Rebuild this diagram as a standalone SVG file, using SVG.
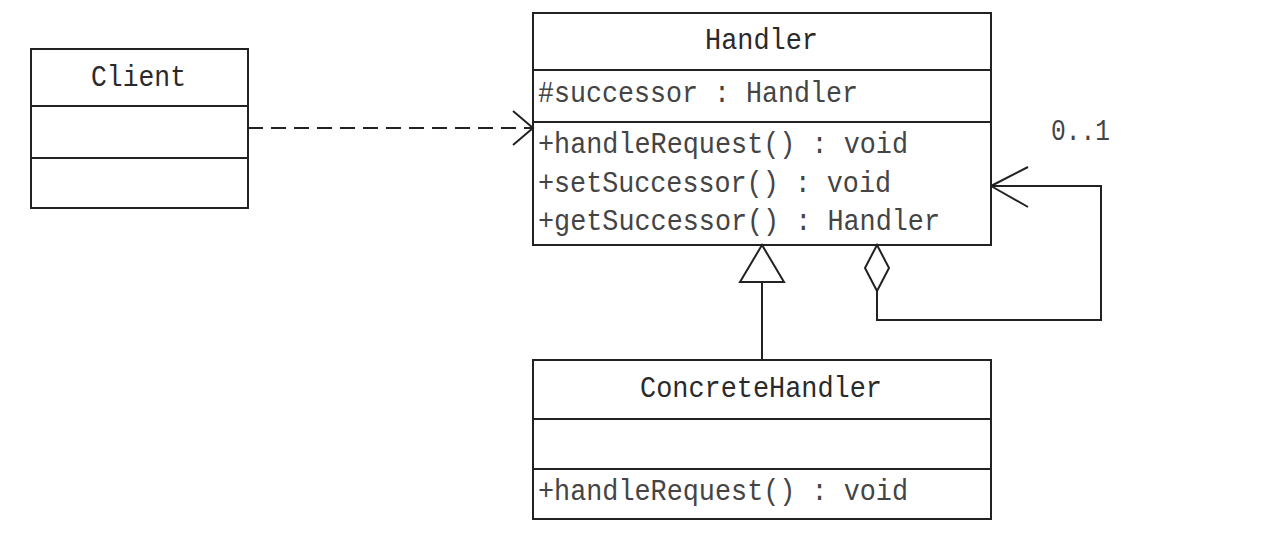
<svg xmlns="http://www.w3.org/2000/svg" width="1262" height="548" viewBox="0 0 1262 548">
<style>
.box{fill:#fff;stroke:#222;stroke-width:2}
.ln{fill:none;stroke:#222;stroke-width:2}
.t{font-family:"Liberation Mono",monospace;font-size:30px;fill:#2a2a2a}
.m{font-family:"Liberation Mono",monospace;font-size:30px;fill:#444}
</style>
<defs>
<marker id="open" markerWidth="24" markerHeight="40" refX="21" refY="18" orient="auto" markerUnits="userSpaceOnUse">
<path d="M1,1 L21,18 L1,35" fill="none" stroke="#222" stroke-width="2"/>
</marker>
</defs>
<rect width="1262" height="548" fill="#fff"/>
<g id="client">
<rect class="box" x="31" y="49" width="217" height="159"/>
<line class="ln" x1="31" y1="106" x2="248" y2="106"/>
<line class="ln" x1="31" y1="158" x2="248" y2="158"/>
<text class="t" x="91" y="86" textLength="95" lengthAdjust="spacingAndGlyphs">Client</text>
</g>
<g id="handler">
<rect class="box" x="533" y="13" width="458" height="232"/>
<line class="ln" x1="533" y1="70" x2="991" y2="70"/>
<line class="ln" x1="533" y1="122" x2="991" y2="122"/>
<text class="t" x="705" y="49" textLength="113" lengthAdjust="spacingAndGlyphs">Handler</text>
<text class="m" x="538" y="102" textLength="320" lengthAdjust="spacingAndGlyphs">#successor : Handler</text>
<text class="m" x="538" y="153" textLength="370" lengthAdjust="spacingAndGlyphs">+handleRequest() : void</text>
<text class="m" x="538" y="192" textLength="353" lengthAdjust="spacingAndGlyphs">+setSuccessor() : void</text>
<text class="m" x="538" y="230" textLength="402" lengthAdjust="spacingAndGlyphs">+getSuccessor() : Handler</text>
</g>
<g id="concretehandler">
<rect class="box" x="533" y="360" width="458" height="159"/>
<line class="ln" x1="533" y1="419" x2="991" y2="419"/>
<line class="ln" x1="533" y1="469" x2="991" y2="469"/>
<text class="t" x="640" y="397" textLength="242" lengthAdjust="spacingAndGlyphs">ConcreteHandler</text>
<text class="m" x="538" y="500" textLength="370" lengthAdjust="spacingAndGlyphs">+handleRequest() : void</text>
</g>
<g id="connectors">
<line class="ln" x1="248" y1="128" x2="533" y2="128" stroke-dasharray="15,8" marker-end="url(#open)"/>
<line class="ln" x1="762" y1="282" x2="762" y2="360"/>
<polygon points="762,245 740,282 784,282" fill="#fff" stroke="#222" stroke-width="2"/>
<polyline class="ln" points="877,291 877,320 1101,320 1101,186 991,186"/>
<path d="M991,186 L1028,167 M991,186 L1028,207" class="ln"/>
<polygon points="877,245 865,268 877,291 889,268" fill="#fff" stroke="#222" stroke-width="2"/>
<text class="m" x="1051" y="140" textLength="59" lengthAdjust="spacingAndGlyphs">0..1</text>
</g>
</svg>
